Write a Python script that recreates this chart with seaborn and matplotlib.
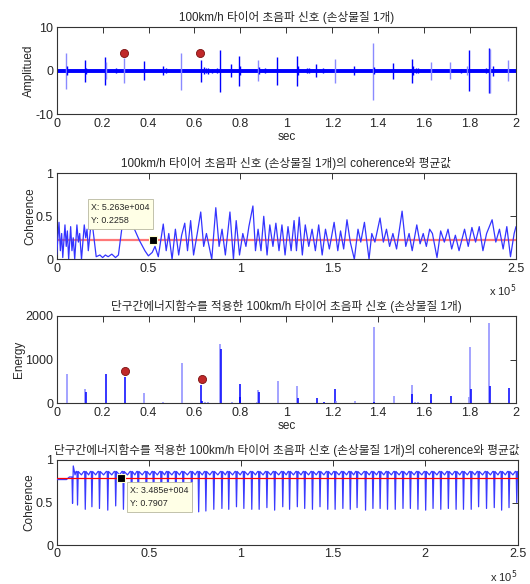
import numpy as np
import pandas as pd
import matplotlib
matplotlib.use("Agg")
import matplotlib.pyplot as plt
import seaborn as sns

sns.set_theme(style="white")
plt.rcParams['font.family'] = ['Liberation Sans', 'Noto Sans CJK KR', 'DejaVu Sans']
plt.rcParams['axes.unicode_minus'] = False

# ---------------- data ----------------
titles = [
    "100km/h 타이어 초음파 신호 (손상물질 1개)",
    "100km/h 타이어 초음파 신호 (손상물질 1개)의 coherence와 평균값",
    "단구간에너지함수를 적용한 100km/h 타이어 초음파 신호 (손상물질 1개)",
    "단구간에너지함수를 적용한 100km/h 타이어 초음파 신호 (손상물질 1개)의 coherence와 평균값",
]
ylabels = ["Amplitued", "Coherence", "Energy", "Coherence"]

# panel 1 : raw signal spikes (time sec, upper, lower, dark?)
sig_t = [0.040, 0.043, 0.123, 0.128, 0.210, 0.213, 0.260, 0.294, 0.379, 0.461, 0.475,
         0.543, 0.628, 0.640, 0.650, 0.660, 0.675, 0.700, 0.711, 0.758, 0.793, 0.800,
         0.877, 0.880, 0.905, 0.960, 1.046, 1.050, 1.090, 1.100, 1.128, 1.160, 1.213,
         1.295, 1.377, 1.380, 1.463, 1.545, 1.550, 1.565, 1.575, 1.630, 1.714, 1.760,
         1.785, 1.794, 1.870, 1.883, 1.886, 1.900, 1.966]
sig_hi = [4.1, 1.0, 2.5, 0.7, 3.2, 2.0, 0.6, 3.0, 2.2, 1.0, 0.6,
          4.1, 2.4, 0.8, 0.6, 0.7, 0.5, 0.6, 4.8, 1.5, 3.3, 1.0,
          2.4, 0.8, 0.6, 3.2, 3.5, 1.0, 0.6, 0.6, 1.5, 0.6, 2.8,
          1.0, 6.4, 0.8, 1.8, 2.8, 1.0, 0.6, 0.6, 2.0, 2.0, 0.5,
          1.0, 4.7, 0.6, 5.2, 5.0, 1.2, 2.4]
sig_lo = [-4.1, -1.0, -2.5, -0.7, -3.3, -2.0, -0.6, -2.9, -2.2, -1.0, -0.6,
          -4.4, -2.5, -0.8, -0.6, -0.7, -0.5, -0.6, -4.9, -1.5, -3.5, -1.0,
          -2.4, -0.8, -0.6, -3.2, -3.5, -1.0, -0.6, -0.6, -1.5, -0.6, -2.8,
          -1.0, -6.6, -0.8, -1.8, -2.8, -1.0, -0.6, -0.6, -2.2, -2.0, -0.5,
          -1.0, -4.6, -0.6, -5.2, -5.0, -1.2, -2.4]
sig_dark = [0, 1, 1, 1, 1, 0, 1, 0, 1, 1, 1,
            0, 1, 1, 1, 1, 1, 1, 1, 1, 1, 1,
            0, 1, 1, 1, 1, 1, 1, 1, 1, 1, 0,
            1, 0, 1, 1, 1, 1, 1, 1, 0, 0, 1,
            0, 1, 1, 1, 0, 1, 0]
sig_mark_t = [0.294, 0.625]
sig_mark_v = [4.2, 4.2]

# panel 2 : coherence of raw signal (x in 1e5 units)
coh1_x = [0.000, 0.0125, 0.020, 0.027, 0.033, 0.045, 0.052, 0.058, 0.065, 0.076, 0.083,
          0.090, 0.098, 0.110, 0.118, 0.125, 0.135, 0.150, 0.158, 0.165, 0.172, 0.190,
          0.215, 0.235, 0.250, 0.265, 0.280, 0.300, 0.320, 0.336, 0.360, 0.385, 0.417,
          0.450, 0.480, 0.499, 0.520, 0.535, 0.553, 0.580, 0.596, 0.610, 0.628, 0.646,
          0.664, 0.680, 0.697, 0.712, 0.729, 0.745, 0.765, 0.784, 0.800, 0.815, 0.844,
          0.866, 0.884, 0.900, 0.918, 0.943, 0.962, 0.977, 0.995, 1.013, 1.030, 1.046,
          1.068, 1.082, 1.096, 1.112, 1.127, 1.145, 1.160, 1.177, 1.193, 1.210, 1.226,
          1.243, 1.259, 1.276, 1.292, 1.305, 1.320, 1.337, 1.353, 1.372, 1.390, 1.408,
          1.426, 1.445, 1.463, 1.484, 1.510, 1.530, 1.545, 1.562, 1.580, 1.598, 1.620,
          1.640, 1.655, 1.675, 1.700, 1.715, 1.732, 1.760, 1.778, 1.795, 1.812, 1.830,
          1.850, 1.880, 1.900, 1.918, 1.935, 1.960, 1.978, 1.995, 2.012, 2.030, 2.045,
          2.070, 2.090, 2.110, 2.130, 2.150, 2.170, 2.190, 2.220, 2.240, 2.260, 2.280,
          2.300, 2.320, 2.340, 2.370, 2.390, 2.410, 2.430, 2.450, 2.470, 2.490, 2.500]
coh1_y = [0.05, 0.43, 0.10, 0.30, 0.02, 0.40, 0.15, 0.33, 0.00, 0.38, 0.10,
          0.25, 0.00, 0.40, 0.20, 0.30, 0.00, 0.40, 0.25, 0.35, 0.10, 0.48,
          0.03, 0.05, 0.02, 0.05, 0.03, 0.06, 0.02, 0.05, 0.45, 0.55, 0.38,
          0.22, 0.10, 0.04, 0.08, 0.15, 0.03, 0.41, 0.10, 0.30, 0.00, 0.35,
          0.05, 0.28, 0.42, 0.10, 0.45, 0.05, 0.30, 0.55, 0.15, 0.30, 0.00,
          0.60, 0.15, 0.35, 0.05, 0.55, 0.00, 0.45, 0.05, 0.30, 0.15, 0.38,
          0.62, 0.10, 0.35, 0.10, 0.50, 0.05, 0.40, 0.15, 0.42, 0.10, 0.40,
          0.05, 0.38, 0.10, 0.45, 0.10, 0.49, 0.05, 0.40, 0.15, 0.35, 0.10,
          0.40, 0.05, 0.35, 0.12, 0.43, 0.10, 0.33, 0.12, 0.46, 0.20, 0.00,
          0.35, 0.20, 0.43, 0.00, 0.30, 0.20, 0.48, 0.20, 0.35, 0.15, 0.30,
          0.12, 0.56, 0.15, 0.30, 0.10, 0.40, 0.18, 0.30, 0.15, 0.35, 0.30,
          0.02, 0.33, 0.20, 0.35, 0.12, 0.28, 0.10, 0.35, 0.15, 0.37, 0.20,
          0.38, 0.10, 0.30, 0.46, 0.20, 0.35, 0.12, 0.38, 0.03, 0.30, 0.38]
coh1_mean = 0.2258
tip1_x, tip1_y = 0.5263, 0.2258

# panel 3 : short-time energy spikes
en_t = [0.043, 0.123, 0.128, 0.213, 0.297, 0.380, 0.463, 0.546, 0.630, 0.634, 0.645,
        0.660, 0.711, 0.715, 0.764, 0.797, 0.800, 0.872, 0.878, 0.881, 0.963, 1.046,
        1.050, 1.132, 1.164, 1.214, 1.217, 1.300, 1.380, 1.383, 1.467, 1.545, 1.547,
        1.560, 1.575, 1.628, 1.632, 1.715, 1.797, 1.800, 1.802, 1.883, 1.886, 1.968]
en_v = [672, 328, 252, 672, 595, 229, 38, 916, 420, 50, 20,
        20, 1358, 1236, 38, 435, 150, 30, 305, 267, 519, 397,
        114, 114, 38, 320, 60, 53, 1740, 20, 168, 420, 206,
        20, 20, 76, 206, 168, 153, 1297, 320, 1831, 397, 359]
en_dark = [0, 0, 1, 1, 1, 0, 0, 0, 1, 1, 0,
           0, 0, 1, 0, 1, 1, 0, 0, 1, 0, 0,
           1, 1, 1, 1, 0, 0, 0, 1, 0, 0, 1,
           0, 0, 0, 1, 1, 0, 0, 1, 0, 1, 1]
en_mark_t = [0.299, 0.634]
en_mark_v = [747, 564]

# panel 4 : coherence after energy function (x in 1e5 units)
coh2_start_x = [0.000, 0.054, 0.070]
coh2_start_y = [0.77, 0.77, 0.80]
dip_x = [0.087, 0.114, 0.156, 0.192, 0.233, 0.278, 0.321, 0.363, 0.407, 0.443,
         0.487, 0.526, 0.568, 0.604, 0.647, 0.687, 0.733, 0.771, 0.810, 0.853,
         0.897, 0.934, 0.976, 1.016, 1.059, 1.099, 1.141, 1.183, 1.227, 1.264,
         1.306, 1.346, 1.388, 1.429, 1.471, 1.511, 1.553, 1.593, 1.630, 1.676,
         1.716, 1.755, 1.795, 1.837, 1.879, 1.919, 1.960, 2.002, 2.042, 2.084,
         2.125, 2.167, 2.207, 2.249, 2.289, 2.332, 2.374, 2.414, 2.454, 2.496]
dip_y = [0.49, 0.47, 0.42, 0.45, 0.43, 0.41, 0.46, 0.42, 0.47, 0.42,
         0.45, 0.44, 0.43, 0.42, 0.46, 0.43, 0.43, 0.39, 0.40, 0.42,
         0.43, 0.42, 0.45, 0.43, 0.42, 0.42, 0.44, 0.41, 0.45, 0.42,
         0.45, 0.43, 0.42, 0.45, 0.42, 0.42, 0.43, 0.42, 0.44, 0.41,
         0.43, 0.43, 0.42, 0.42, 0.43, 0.43, 0.42, 0.41, 0.43, 0.42,
         0.43, 0.42, 0.42, 0.42, 0.45, 0.43, 0.44, 0.41, 0.44, 0.50]
ridge_hi = 0.865
ridge_notch = 0.825
first_peak = 0.93
coh2_mean = 0.7907
tip2_x, tip2_y = 0.3485, 0.7907

# ---------------- figure ----------------
W, H = 530, 584
fig = plt.figure(figsize=(W / 100, H / 100), dpi=100)

def px_axes(l, t, r, b):
    return fig.add_axes([l / W, 1 - b / H, (r - l) / W, (b - t) / H])

ax1 = px_axes(56.7, 27.3, 516, 114.3)
ax2 = px_axes(56.7, 173.3, 516, 259.3)
ax3 = px_axes(56.7, 316, 516, 403.3)
ax4 = px_axes(56.5, 460, 517.5, 545)

DARK = "#0000ff"
LIGHT = "#8a8aff"
FS_TICK = 9
FS_LAB = 8.5
FS_TITLE = 8.4

def style(ax):
    for s in ax.spines.values():
        s.set_color("#333333")
        s.set_linewidth(0.8)
        s.set_visible(True)
    ax.tick_params(direction="in", length=4, width=0.7, color="#333333",
                   top=True, right=True, labelsize=FS_TICK, pad=2.5)
    ax.set_facecolor("white")

# panel 1
ax1.plot([0, 2], [0, 0], color=DARK, lw=2.8, solid_capstyle="butt", zorder=2)
for t, hi, lo, d in zip(sig_t, sig_hi, sig_lo, sig_dark):
    ax1.vlines(t, lo, hi, color=DARK if d else LIGHT, lw=1.0, zorder=3)
sns.scatterplot(x=sig_mark_t, y=sig_mark_v, ax=ax1, s=34, color="#c0282a",
                edgecolor="#7a1010", linewidth=0.6, zorder=5, legend=False)
ax1.set_xlim(0, 2)
ax1.set_ylim(-10, 10)
ax1.set_xticks(np.arange(0, 2.01, 0.2))
ax1.set_xticklabels(["0", "0.2", "0.4", "0.6", "0.8", "1", "1.2", "1.4", "1.6", "1.8", "2"])
ax1.set_yticks([-10, 0, 10])
ax1.set_xlabel("sec", fontsize=FS_LAB, labelpad=1)

# panel 2
df2 = pd.DataFrame({"x": np.array(coh1_x) * 1e5, "y": coh1_y})
sns.lineplot(data=df2, x="x", y="y", ax=ax2, color="#3434ff", lw=0.9,
             sort=False, estimator=None, zorder=3)
ax2.axhline(coh1_mean, color="#ff7878", lw=1.6, zorder=2)
ax2.set_xlim(0, 2.5e5)
ax2.set_ylim(0, 1)
ax2.set_yticks([0, 0.5, 1])
ax2.set_yticklabels(["0", "0.5", "1"])

# panel 3
for t, v, d in zip(en_t, en_v, en_dark):
    ax3.vlines(t, 0, v, color=DARK if d else LIGHT, lw=1.1, zorder=3)
sns.scatterplot(x=en_mark_t, y=en_mark_v, ax=ax3, s=34, color="#c0282a",
                edgecolor="#7a1010", linewidth=0.6, zorder=5, legend=False)
ax3.set_xlim(0, 2)
ax3.set_ylim(0, 2000)
ax3.set_xticks(np.arange(0, 2.01, 0.2))
ax3.set_xticklabels(["0", "0.2", "0.4", "0.6", "0.8", "1", "1.2", "1.4", "1.6", "1.8", "2"])
ax3.set_yticks([0, 1000, 2000])
ax3.set_xlabel("sec", fontsize=FS_LAB, labelpad=1)

# panel 4
vx = list(coh2_start_x)
vy = list(coh2_start_y)
for i, (dx, dy) in enumerate(zip(dip_x, dip_y)):
    vx += [dx - 0.003, dx, dx + 0.004]
    top = first_peak if i == 0 else ridge_hi
    vy += [ridge_hi if i else 0.80, dy, top]
    if i + 1 < len(dip_x):
        nx = dip_x[i + 1]
        vx += [(dx + nx) / 2, nx - 0.008]
        vy += [ridge_notch, ridge_hi]
df4 = pd.DataFrame({"x": np.array(vx) * 1e5, "y": vy})
sns.lineplot(data=df4, x="x", y="y", ax=ax4, color="#3a3aff", lw=0.9,
             sort=False, estimator=None, zorder=3)
ax4.axhline(coh2_mean, color="#ff0000", lw=0.9, zorder=4)
ax4.set_xlim(0, 2.5e5)
ax4.set_ylim(0, 1)
ax4.set_yticks([0, 0.5, 1])
ax4.set_yticklabels(["0", "0.5", "1"])

for ax in (ax2, ax4):
    ax.set_xticks(np.arange(0, 2.51e5, 0.5e5))
    ax.set_xticklabels(["0", "0.5", "1", "1.5", "2", "2.5"])
    ax.set_xlabel("")
    ax.text(1.0, -0.37, r"x 10$^{5}$", transform=ax.transAxes, ha="right",
            va="center", fontsize=FS_LAB - 0.5)

for ax, t, yl in zip((ax1, ax2, ax3, ax4), titles, ylabels):
    style(ax)
    ax.set_title(t, fontsize=FS_TITLE, pad=4.5)
    ax.set_ylabel(yl, fontsize=FS_LAB, labelpad=0)

# data tips
ax2.scatter([tip1_x * 1e5], [tip1_y], marker="s", s=30, color="black",
            edgecolor="#ffffd0", linewidth=0.8, zorder=6)
ax2.text(0.075, 0.655, "X: 5.263e+004\nY: 0.2258", transform=ax2.transAxes,
         ha="left", va="top", fontsize=6.4, linespacing=1.6, zorder=7,
         bbox=dict(boxstyle="square,pad=0.4", fc="#ffffe6", ec="#b8b8a0", lw=0.6))
ax4.scatter([tip2_x * 1e5], [tip2_y], marker="s", s=30, color="black",
            edgecolor="#ffffd0", linewidth=0.8, zorder=6)
ax4.text(0.160, 0.695, "X: 3.485e+004\nY: 0.7907", transform=ax4.transAxes,
         ha="left", va="top", fontsize=6.4, linespacing=1.6, zorder=7,
         bbox=dict(boxstyle="square,pad=0.4", fc="#ffffe6", ec="#b8b8a0", lw=0.6))

fig.savefig("out.png", dpi=100, facecolor="white")
